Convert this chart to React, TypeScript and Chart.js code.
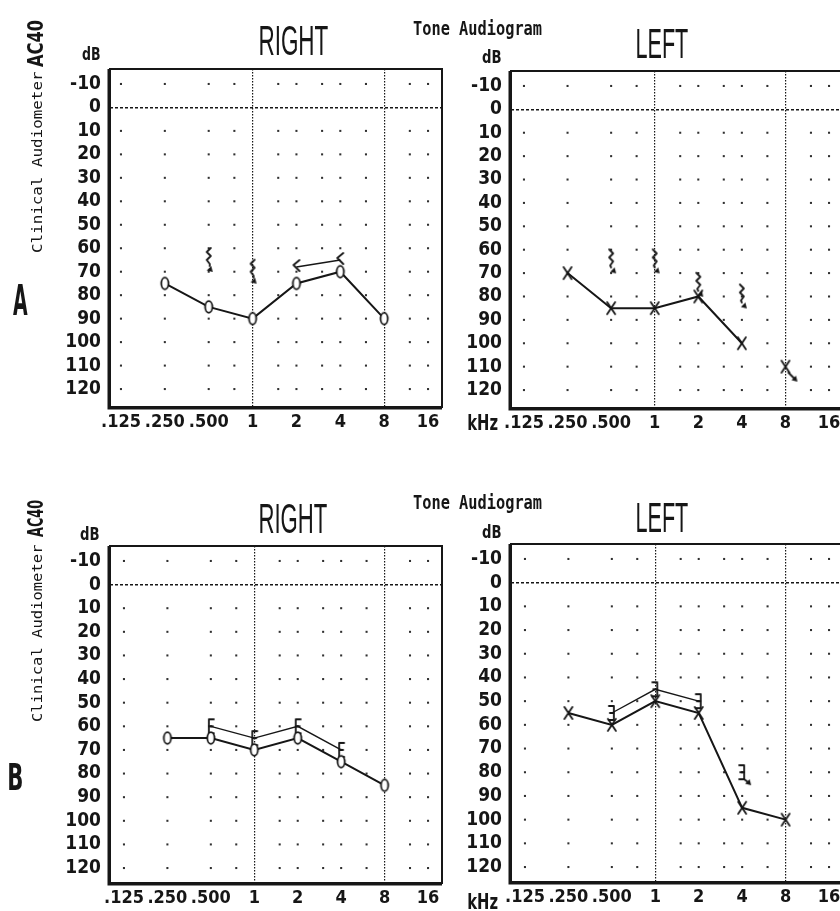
import React, { useEffect, useMemo, useRef } from 'react';
import { Chart, registerables } from 'chart.js';

Chart.register(...registerables);

// ---------------- data ----------------
const FREQ_TICKS = [0.125, 0.25, 0.5, 1, 2, 4, 8, 16];
const FREQ_TICK_LABELS = ['.125', '.250', '.500', '1', '2', '4', '8', '16'];
const DB_TICKS = [-10, 0, 10, 20, 30, 40, 50, 60, 70, 80, 90, 100, 110, 120];
const DOT_FREQS = [0.125, 0.25, 0.5, 0.75, 1.5, 2, 3, 4, 6, 12, 16];
const DOT_LEVELS = [-10, 10, 20, 30, 40, 50, 60, 70, 80, 90, 100, 110, 120];
const MAJOR_FREQS = [1, 8];
const REF_LEVEL = 0;

// A - right ear
const A_RIGHT_AIR_FREQS = [0.25, 0.5, 1, 2, 4, 8];
const A_RIGHT_AIR = [75, 85, 90, 75, 70, 90];
const A_RIGHT_BONE_NR_FREQS = [0.5, 1];
const A_RIGHT_BONE_NR = [65, 70];
const A_RIGHT_BONE_FREQS = [2, 4];
const A_RIGHT_BONE = [68, 65];

// A - left ear
const A_LEFT_AIR_FREQS = [0.25, 0.5, 1, 2, 4];
const A_LEFT_AIR = [70, 85, 85, 80, 100];
const A_LEFT_AIR_NR_FREQS = [8];
const A_LEFT_AIR_NR = [110];
const A_LEFT_BONE_NR_FREQS = [0.5, 1, 2, 4];
const A_LEFT_BONE_NR = [65, 65, 75, 80];

// B - right ear
const B_RIGHT_AIR_FREQS = [0.25, 0.5, 1, 2, 4, 8];
const B_RIGHT_AIR = [65, 65, 70, 65, 75, 85];
const B_RIGHT_BONE_FREQS = [0.5, 1, 2, 4];
const B_RIGHT_BONE = [60, 65, 60, 70];

// B - left ear
const B_LEFT_AIR_FREQS = [0.25, 0.5, 1, 2, 4, 8];
const B_LEFT_AIR = [55, 60, 50, 55, 95, 100];
const B_LEFT_BONE_FREQS = [0.5, 1, 2];
const B_LEFT_BONE = [55, 45, 50];
const B_LEFT_BONE_NR_FREQS = [4];
const B_LEFT_BONE_NR = [80];

// ---------------- style ----------------
const INK = '#161616';
const DOT_INK = '#303030';
const FONT_NARROW = "'Liberation Sans Narrow', 'Arial Narrow', 'DejaVu Sans Condensed', sans-serif";
const FONT_TICK = "'DejaVu Sans Condensed', 'Liberation Sans Narrow', 'Roboto Condensed', sans-serif";
const FONT_MONO = "'DejaVu Sans Mono', 'Liberation Mono', monospace";
const FONT_TITLE = "'Liberation Sans Narrow', 'Liberation Sans', sans-serif";

const YW = 70; // y-axis band width
const XH = 32; // x-axis band height
const PT = 6;
const PR = 6;

type Pt = { x: number; y: number };
const pts = (f: number[], v: number[]): Pt[] => f.map((x, i) => ({ x, y: v[i] }));

// ---------------- glyphs ----------------
function glyph(w: number, h: number, draw: (g: CanvasRenderingContext2D) => void) {
  const c = document.createElement('canvas');
  c.width = w;
  c.height = h;
  const g = c.getContext('2d')!;
  g.translate(w / 2, h / 2);
  g.strokeStyle = INK;
  g.fillStyle = INK;
  g.lineWidth = 1.8;
  g.lineCap = 'round';
  g.lineJoin = 'round';
  draw(g);
  return c;
}
function poly(g: CanvasRenderingContext2D, p: number[][]) {
  g.beginPath();
  g.moveTo(p[0][0], p[0][1]);
  for (let i = 1; i < p.length; i++) g.lineTo(p[i][0], p[i][1]);
  g.stroke();
}
function arrow(g: CanvasRenderingContext2D, x: number, y: number) {
  g.beginPath();
  g.moveTo(x, y);
  g.lineTo(x - 6, y - 1.5);
  g.lineTo(x - 1.5, y - 6);
  g.closePath();
  g.fill();
}
function makeGlyphs() {
  return {
    o: glyph(14, 18, (g) => {
      g.beginPath();
      g.ellipse(0, 0, 3.6, 5.8, 0, 0, Math.PI * 2);
      g.fillStyle = '#fff';
      g.fill();
      g.stroke();
    }),
    x: glyph(14, 18, (g) => {
      poly(g, [[-4, -6], [4, 6]]);
      poly(g, [[4, -6], [-4, 6]]);
    }),
    xNR: glyph(36, 36, (g) => {
      poly(g, [[-4, -6], [4, 6]]);
      poly(g, [[4, -6], [-4, 6]]);
      poly(g, [[3, 6], [9, 12]]);
      arrow(g, 12, 15);
    }),
    lessNR: glyph(24, 34, (g) => {
      poly(g, [[2, -12], [-2, -8], [2, -4], [-2, 0], [1, 4], [1, 6]]);
      arrow(g, 4, 12);
    }),
    less: glyph(14, 20, (g) => {
      poly(g, [[3, -7], [-3, -2], [3, 4]]);
    }),
    greaterNR: glyph(24, 34, (g) => {
      poly(g, [[-2, -12], [2, -8], [-2, -4], [2, 0], [-1, 4], [0, 6]]);
      arrow(g, 5, 12);
    }),
    bracketL: glyph(14, 20, (g) => {
      poly(g, [[3, -7], [-2, -7], [-2, 7], [3, 7]]);
      poly(g, [[-2, 0], [2, 0]]);
    }),
    bracketR: glyph(14, 20, (g) => {
      poly(g, [[-3, -7], [2, -7], [2, 7], [-3, 7]]);
      poly(g, [[2, 0], [-2, 0]]);
    }),
    bracketRNR: glyph(32, 32, (g) => {
      poly(g, [[-3, -7], [2, -7], [2, 7], [-3, 7]]);
      poly(g, [[2, 0], [-2, 0]]);
      poly(g, [[2, 7], [6, 10]]);
      arrow(g, 9, 13);
    }),
  };
}
type Glyphs = ReturnType<typeof makeGlyphs>;

// ---------------- panels ----------------
interface Cal {
  l: number; t: number; r: number; b: number;
  p125: number; p16: number; pm10: number; p120: number;
}
interface PanelCfg {
  cal: Cal;
  datasets: (g: Glyphs) => any[];
}

const lineSet = (data: Pt[], style: HTMLCanvasElement, width = 2) => ({
  data, borderColor: INK, borderWidth: width, pointStyle: style, pointRadius: 5,
  showLine: true, tension: 0,
});
const pointSet = (data: Pt[], style: HTMLCanvasElement) => ({
  data, pointStyle: style, pointRadius: 5, showLine: false,
});

const PANELS: PanelCfg[] = [
  {
    cal: { l: 110, t: 68, r: 443, b: 407, p125: 121, p16: 429, pm10: 83, p120: 389 },
    datasets: (g) => [
      lineSet(pts(A_RIGHT_AIR_FREQS, A_RIGHT_AIR), g.o),
      lineSet(pts(A_RIGHT_BONE_FREQS, A_RIGHT_BONE), g.less, 1.4),
      pointSet(pts(A_RIGHT_BONE_NR_FREQS, A_RIGHT_BONE_NR), g.lessNR),
    ],
  },
  {
    cal: { l: 511, t: 70, r: 843, b: 408, p125: 524, p16: 830, pm10: 85, p120: 390 },
    datasets: (g) => [
      lineSet(pts(A_LEFT_AIR_FREQS, A_LEFT_AIR), g.x),
      pointSet(pts(A_LEFT_AIR_NR_FREQS, A_LEFT_AIR_NR), g.xNR),
      pointSet(pts(A_LEFT_BONE_NR_FREQS, A_LEFT_BONE_NR), g.greaterNR),
    ],
  },
  {
    cal: { l: 110, t: 545, r: 443, b: 883, p125: 124, p16: 429, pm10: 560, p120: 868 },
    datasets: (g) => [
      lineSet(pts(B_RIGHT_AIR_FREQS, B_RIGHT_AIR), g.o),
      lineSet(pts(B_RIGHT_BONE_FREQS, B_RIGHT_BONE), g.bracketL, 1.4),
    ],
  },
  {
    cal: { l: 511, t: 543, r: 843, b: 882, p125: 525, p16: 830, pm10: 558, p120: 867 },
    datasets: (g) => [
      lineSet(pts(B_LEFT_AIR_FREQS, B_LEFT_AIR), g.x),
      lineSet(pts(B_LEFT_BONE_FREQS, B_LEFT_BONE), g.bracketR, 1.4),
      pointSet(pts(B_LEFT_BONE_NR_FREQS, B_LEFT_BONE_NR), g.bracketRNR),
    ],
  },
];

const framePlugin = {
  id: 'frame',
  beforeDatasetsDraw(chart: any) {
    const { ctx, chartArea: a } = chart;
    ctx.save();
    ctx.strokeStyle = INK;
    ctx.lineWidth = 2;
    ctx.strokeRect(a.left, a.top, a.right - a.left, a.bottom - a.top);
    ctx.lineWidth = 3;
    ctx.beginPath();
    ctx.moveTo(a.left - 1, a.top);
    ctx.lineTo(a.left - 1, a.bottom + 1);
    ctx.lineTo(a.right, a.bottom + 1);
    ctx.stroke();
    ctx.restore();
  },
};

function Panel({ cfg }: { cfg: PanelCfg }) {
  const ref = useRef<HTMLCanvasElement>(null);
  const { cal } = cfg;
  const w = cal.r - cal.l + YW + PR;
  const h = cal.b - cal.t + PT + XH;

  useEffect(() => {
    const g = makeGlyphs();
    const ppo = (cal.p16 - cal.p125) / 7;
    const xMin = 0.125 * Math.pow(2, -(cal.p125 - cal.l) / ppo);
    const xMax = 16 * Math.pow(2, (cal.r - cal.p16) / ppo);
    const ppd = (cal.p120 - cal.pm10) / 130;
    const yMin = -10 - (cal.pm10 - cal.t) / ppd;
    const yMax = 120 + (cal.b - cal.p120) / ppd;

    const dots = {
      data: DOT_FREQS.flatMap((f) => DOT_LEVELS.map((l) => ({ x: f, y: l }))),
      pointStyle: 'rect', pointRadius: 1.45, pointBorderWidth: 0,
      backgroundColor: DOT_INK, showLine: false,
    };
    const yFont = { family: FONT_TICK, size: 19, weight: 'bold' as const, lineHeight: 1.2 };
    const xFont = { family: FONT_TICK, size: 18, weight: 'bold' as const, lineHeight: 1.2 };

    const chart = new Chart(ref.current!, {
      type: 'line',
      data: { datasets: [...cfg.datasets(g), dots] as any },
      options: {
        responsive: false,
        animation: false,
        events: [],
        layout: { padding: { top: PT, right: PR, left: 0, bottom: 0 } },
        plugins: { legend: { display: false }, tooltip: { enabled: false } },
        scales: {
          x: {
            type: 'logarithmic',
            min: xMin,
            max: xMax,
            afterFit: (s: any) => {
              s.height = XH;
              s.paddingLeft = 0;
              s.paddingRight = 0;
              s.paddingTop = 0;
              s.paddingBottom = 0;
            },
            afterBuildTicks: (a: any) => { a.ticks = FREQ_TICKS.map((v) => ({ value: v })); },
            ticks: {
              autoSkip: false, maxRotation: 0, minRotation: 0, padding: 5, color: INK, font: xFont,
              callback: (_v: any, i: number) => FREQ_TICK_LABELS[i],
            },
            grid: {
              drawTicks: false,
              lineWidth: 1.2,
              color: (c: any) => (c.tick && MAJOR_FREQS.includes(c.tick.value) ? INK : 'rgba(0,0,0,0)'),
            },
            border: { display: false, dash: [1.5, 1.5] },
          },
          y: {
            type: 'linear',
            reverse: true,
            min: yMin,
            max: yMax,
            afterFit: (s: any) => {
              s.width = YW;
              s.paddingLeft = 0;
              s.paddingRight = 0;
              s.paddingTop = 0;
              s.paddingBottom = 0;
            },
            afterBuildTicks: (a: any) => { a.ticks = DB_TICKS.map((v) => ({ value: v })); },
            ticks: { autoSkip: false, padding: 9, color: INK, font: yFont, callback: (v: any) => String(v) },
            grid: {
              drawTicks: false,
              lineWidth: 1.5,
              color: (c: any) => (c.tick && c.tick.value === REF_LEVEL ? INK : 'rgba(0,0,0,0)'),
            },
            border: { display: false, dash: [3, 2] },
          },
        },
      } as any,
      plugins: [framePlugin],
    });
    return () => chart.destroy();
  }, [cfg]);

  return (
    <canvas
      ref={ref}
      width={w}
      height={h}
      style={{ position: 'absolute', left: cal.l - YW, top: cal.t - PT, width: w, height: h }}
    />
  );
}

// ---------------- text ----------------
interface TxtProps {
  text: string; x: number; y: number; w?: number; size: number;
  family: string; weight?: string; rot?: number;
}
function Txt({ text, x, y, w, size, family, weight = 'normal', rot = 0 }: TxtProps) {
  const font = `${weight} ${size}px ${family}`;
  const transform = useMemo(() => {
    const c = document.createElement('canvas').getContext('2d')!;
    c.font = font;
    const m = c.measureText(text);
    const inkW = m.actualBoundingBoxLeft + m.actualBoundingBoxRight;
    const fA = m.fontBoundingBoxAscent;
    const fD = m.fontBoundingBoxDescent;
    const base = (size - (fA + fD)) / 2 + fA;
    const sx = w ? w / inkW : 1;
    return `translate(${x}px, ${y}px) rotate(${rot}deg) scaleX(${sx}) translate(${m.actualBoundingBoxLeft}px, ${-base}px)`;
  }, [text, x, y, w, size, font, rot]);
  return (
    <div
      style={{
        position: 'absolute', left: 0, top: 0, transformOrigin: '0 0', transform,
        font, lineHeight: `${size}px`, whiteSpace: 'nowrap', color: INK,
      }}
    >
      {text}
    </div>
  );
}

const TEXTS: TxtProps[] = [
  // block A
  { text: 'AC40', x: 43, y: 67, w: 47, size: 21, family: FONT_NARROW, weight: 'bold', rot: -90 },
  { text: 'Clinical Audiometer', x: 42, y: 253, w: 181, size: 14, family: FONT_MONO, rot: -90 },
  { text: 'A', x: 13, y: 315, w: 15, size: 42, family: FONT_NARROW, weight: 'bold' },
  { text: 'RIGHT', x: 260, y: 55, w: 68, size: 42, family: FONT_TITLE },
  { text: 'LEFT', x: 637, y: 58, w: 51, size: 42, family: FONT_TITLE },
  { text: 'Tone Audiogram', x: 413, y: 35, w: 129, size: 20, family: FONT_MONO, weight: 'bold' },
  { text: 'dB', x: 82, y: 60, w: 18, size: 17, family: FONT_NARROW, weight: 'bold' },
  { text: 'dB', x: 482, y: 63, w: 19, size: 17, family: FONT_NARROW, weight: 'bold' },
  { text: 'kHz', x: 468, y: 430, w: 30, size: 21, family: FONT_NARROW, weight: 'bold' },
  // block B
  { text: 'AC40', x: 43, y: 537, w: 37, size: 21, family: FONT_NARROW, weight: 'bold', rot: -90 },
  { text: 'Clinical Audiometer', x: 42, y: 722, w: 177, size: 14, family: FONT_MONO, rot: -90 },
  { text: 'B', x: 9, y: 790, w: 13, size: 38, family: FONT_NARROW, weight: 'bold' },
  { text: 'RIGHT', x: 260, y: 533, w: 67, size: 42, family: FONT_TITLE },
  { text: 'LEFT', x: 637, y: 532, w: 51, size: 42, family: FONT_TITLE },
  { text: 'Tone Audiogram', x: 413, y: 509, w: 129, size: 20, family: FONT_MONO, weight: 'bold' },
  { text: 'dB', x: 80, y: 540, w: 19, size: 17, family: FONT_NARROW, weight: 'bold' },
  { text: 'dB', x: 482, y: 538, w: 19, size: 17, family: FONT_NARROW, weight: 'bold' },
  { text: 'kHz', x: 468, y: 909, w: 30, size: 21, family: FONT_NARROW, weight: 'bold' },
];

export default function App() {
  return (
    <div
      style={{
        position: 'absolute', left: 0, top: 0, width: 840, height: 911,
        overflow: 'hidden', background: '#fff',
      }}
    >
      {PANELS.map((p, i) => (
        <Panel key={i} cfg={p} />
      ))}
      {TEXTS.map((t, i) => (
        <Txt key={i} {...t} />
      ))}
    </div>
  );
}
